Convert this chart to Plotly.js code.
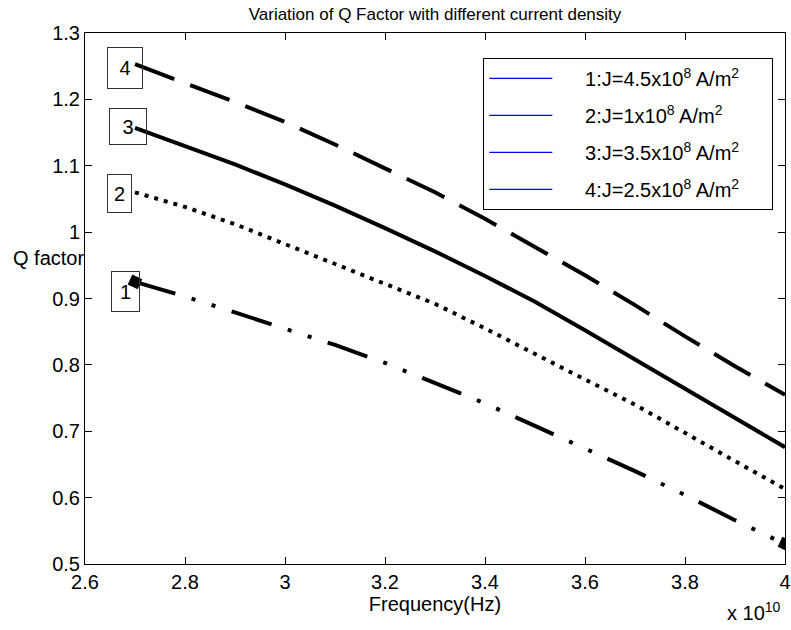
<!DOCTYPE html>
<html>
<head>
<meta charset="utf-8">
<script src="https://cdn.plot.ly/plotly-3.0.1.min.js"></script>
<style>html,body{margin:0;padding:0;background:#fff;}#chart{width:791px;height:630px;}</style>
</head>
<body>
<div id="chart"></div>
<script>
// Frequency in units of 10^10 Hz
const freqE10 = [2.7, 2.8, 2.9, 3.0, 3.1, 3.2, 3.3, 3.4, 3.5, 3.6, 3.7, 3.8, 3.9, 4.0];
// Q factor series (labels 1..4)
const q1 = [0.925, 0.903, 0.879, 0.854, 0.830, 0.803, 0.773, 0.742, 0.708, 0.674, 0.640, 0.604, 0.566, 0.530];
const q2 = [1.060, 1.038, 1.012, 0.982, 0.952, 0.923, 0.892, 0.855, 0.816, 0.778, 0.740, 0.697, 0.655, 0.613];
const q3 = [1.157, 1.130, 1.102, 1.072, 1.040, 1.006, 0.971, 0.934, 0.895, 0.852, 0.808, 0.765, 0.720, 0.676];
const q4 = [1.253, 1.225, 1.196, 1.166, 1.132, 1.096, 1.060, 1.020, 0.978, 0.935, 0.890, 0.843, 0.798, 0.755];
const legendNames = [
  '1:J=4.5x10<sup>8</sup> A/m<sup>2</sup>',
  '2:J=1x10<sup>8</sup> A/m<sup>2</sup>',
  '3:J=3.5x10<sup>8</sup> A/m<sup>2</sup>',
  '4:J=2.5x10<sup>8</sup> A/m<sup>2</sup>'
];
const curveLabels = ['1', '2', '3', '4'];
const titleText = 'Variation of Q Factor with different current density';
const xTitle = 'Frequency(Hz)';
const yTitle = 'Q factor';

const FONT = 'Liberation Sans, Arial, Helvetica, sans-serif';
const FS = 20;
const TFS = 17;
const NB = '\u00a0';

const endMarkerSizes = freqE10.map((_, i) => (i === 0 || i === freqE10.length - 1) ? 11 : 0);

const traces = [
  {x: freqE10, y: q1, mode: 'lines+markers', showlegend: false,
   line: {color: '#000', width: 4, dash: '42px,17px,4px,17px,4px,17px'},
   marker: {symbol: 'square', size: endMarkerSizes, color: '#000', angle: 25, opacity: 1,
            line: {width: 0}}},
  {x: freqE10, y: q2, mode: 'lines', showlegend: false,
   line: {color: '#000', width: 4, dash: '4px,6px'}},
  {x: freqE10, y: q3, mode: 'lines', showlegend: false,
   line: {color: '#000', width: 4}},
  {x: freqE10, y: q4, mode: 'lines', showlegend: false,
   line: {color: '#000', width: 4, dash: '42px,17px'}}
];
legendNames.forEach((n, i) => traces.push({
  x: [null], y: [null], mode: 'lines',
  name: NB.repeat(5) + n + NB.repeat(5),
  showlegend: true, legendgroup: 'g' + i,
  line: {color: '#0000ff', width: 1.3}
}));

const boxPos = [
  {x: 2.681, y: 0.910, w: 19, h: 31},
  {x: 2.669, y: 1.058, w: 15, h: 29},
  {x: 2.686, y: 1.159, w: 28, h: 27},
  {x: 2.680, y: 1.247, w: 26, h: 32}
];
const annotations = curveLabels.map((t, i) => ({
  text: t, xref: 'x', yref: 'y', x: boxPos[i].x, y: boxPos[i].y,
  showarrow: false, font: {family: FONT, size: FS, color: '#000'},
  bordercolor: '#333', borderwidth: 1, borderpad: 4,
  width: boxPos[i].w, height: boxPos[i].h, xanchor: 'center', yanchor: 'middle'
}));
annotations.push({
  text: 'x 10<sup>10</sup>', xref: 'paper', yref: 'paper', x: 0.955, y: -0.09,
  showarrow: false, font: {family: FONT, size: FS, color: '#000'},
  xanchor: 'center', yanchor: 'middle'
});
annotations.push({
  text: yTitle, xref: 'paper', yref: 'paper', x: -0.0515, y: 0.576,
  showarrow: false, font: {family: FONT, size: FS, color: '#000'},
  xanchor: 'center', yanchor: 'middle'
});

const layout = {
  width: 791, height: 630,
  margin: {l: 85, r: 6, t: 33, b: 66},
  paper_bgcolor: '#fff', plot_bgcolor: '#fff',
  font: {family: FONT, size: FS, color: '#000'},
  title: {text: titleText, font: {family: FONT, size: TFS, color: '#000'},
          x: 0.5, xref: 'paper', y: 0.978, yref: 'container', xanchor: 'center', yanchor: 'middle'},
  xaxis: {
    range: [2.6, 4.0], tick0: 2.6, dtick: 0.2, ticks: 'inside', ticklen: 7,
    tickcolor: '#000', showline: true, linecolor: '#000', linewidth: 1, mirror: 'ticks',
    showgrid: false, zeroline: false, tickfont: {family: FONT, size: FS, color: '#000'},
    title: {text: xTitle, font: {family: FONT, size: FS, color: '#000'}, standoff: 2}
  },
  yaxis: {
    range: [0.5, 1.3], tick0: 0.5, dtick: 0.1, ticks: 'inside', ticklen: 7,
    tickcolor: '#000', showline: true, linecolor: '#000', linewidth: 1, mirror: 'ticks',
    showgrid: false, zeroline: false, tickfont: {family: FONT, size: FS, color: '#000'}
  },
  legend: {
    x: 0.569, y: 0.953, xanchor: 'left', yanchor: 'top',
    bgcolor: '#fff', bordercolor: '#000', borderwidth: 1,
    font: {family: FONT, size: FS, color: '#000'}, itemwidth: 63,
    traceorder: 'grouped', tracegroupgap: 8
  },
  annotations: annotations,
  showlegend: true
};

Plotly.newPlot('chart', traces, layout, {staticPlot: true, displayModeBar: false});
</script>
</body>
</html>
